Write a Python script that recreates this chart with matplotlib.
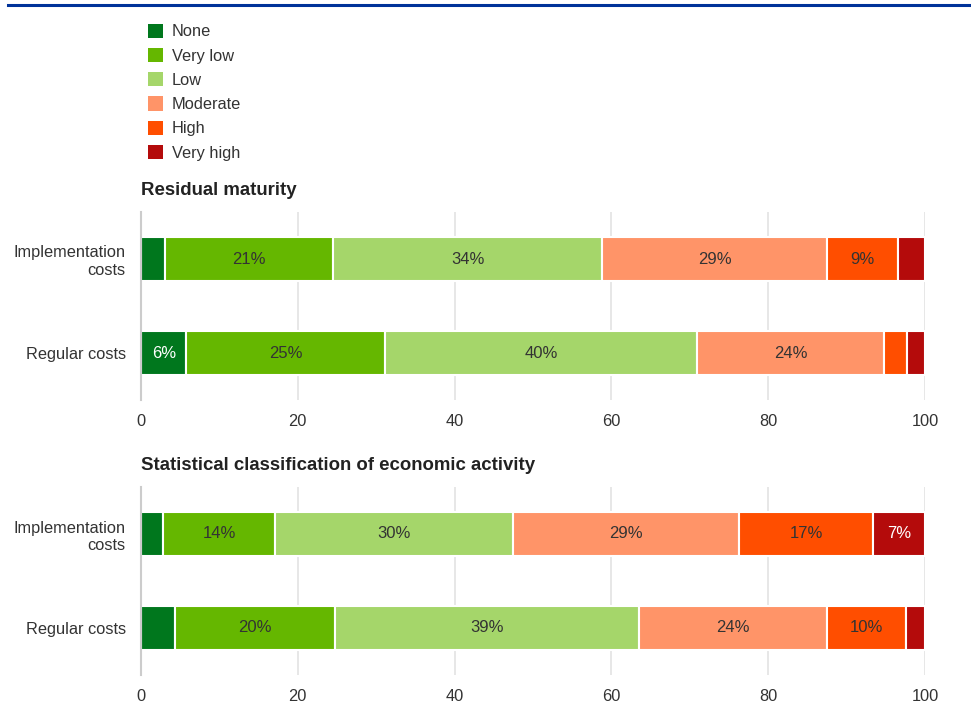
import matplotlib
matplotlib.use("Agg")
import matplotlib.pyplot as plt
from matplotlib.lines import Line2D
from matplotlib.patches import Patch

plt.rcParams['font.family'] = ['Liberation Sans', 'DejaVu Sans']

levels = ['None', 'Very low', 'Low', 'Moderate', 'High', 'Very high']
colors = ['#00771d', '#65b700', '#a5d66a', '#ff9468', '#ff4e00', '#b40b0b']
text_colors = ['white', '#333333', '#333333', '#333333', '#333333', 'white']
categories = ['Implementation\ncosts', 'Regular costs']

panel_titles = ['Residual maturity', 'Statistical classification of economic activity']
# rows: Implementation costs, Regular costs ; columns follow levels
residual_impl = [3.1, 21.4, 34.3, 28.7, 9.0, 3.5]
residual_reg = [5.8, 25.3, 39.8, 23.9, 2.9, 2.3]
nace_impl = [2.8, 14.3, 30.3, 28.9, 17.1, 6.6]
nace_reg = [4.3, 20.4, 38.8, 24.0, 10.1, 2.4]
panels = [[residual_impl, residual_reg], [nace_impl, nace_reg]]

fig = plt.figure(figsize=(9.71, 7.17), dpi=100)
fig.add_artist(Line2D([8 / 971, 1], [1 - 5 / 717, 1 - 5 / 717], color='#003299', lw=2.2))

ax_pos = [[141 / 971, 1 - 400 / 717, 784 / 971, 188 / 717],
          [141 / 971, 1 - 675 / 717, 784 / 971, 188 / 717]]

for pos, rows, title in zip(ax_pos, panels, panel_titles):
    ax = fig.add_axes(pos)
    ypos = list(range(len(categories)))
    left = [0.0] * len(rows)
    for j, lev in enumerate(levels):
        vals = [r[j] for r in rows]
        ax.barh(ypos, vals, left=left, height=0.47, color=colors[j],
                edgecolor='white', linewidth=1.5, label=lev, zorder=3)
        for k, v in enumerate(vals):
            if v >= 5:
                ax.text(left[k] + v / 2, ypos[k], f"{round(v)}%", ha='center', va='center',
                        color=text_colors[j], fontsize=12, zorder=4)
        left = [a + b for a, b in zip(left, vals)]
    ax.set_xlim(0, 100)
    ax.set_ylim(1.5, -0.5)
    ax.set_yticks(ypos)
    ax.set_yticklabels(categories, fontsize=11.8, color='#333333', multialignment='right')
    ax.set_xticks(range(0, 101, 20))
    ax.tick_params(axis='x', labelsize=11.8, colors='#333333', length=0, pad=10)
    ax.tick_params(axis='y', length=0, pad=11)
    ax.grid(axis='x', color='#e3e3e3', lw=1.2, zorder=0)
    for s in ['top', 'right', 'bottom']:
        ax.spines[s].set_visible(False)
    ax.spines['left'].set_color('#cccccc')
    ax.spines['left'].set_linewidth(1.5)
    ax.spines['left'].set_zorder(5)
    ax.set_title(title, loc='left', fontsize=13.4, fontweight='bold', color='#222222', pad=12)

handles = [Patch(facecolor=c, edgecolor='none') for c in colors]
fig.legend(handles, levels, loc='upper left', bbox_to_anchor=(133 / 971, 1 - 9 / 717),
           frameon=False, fontsize=11.8, handlelength=0.95, handleheight=0.95,
           handletextpad=0.5, labelspacing=0.52, labelcolor='#333333')

fig.savefig('out.png', dpi=100)
